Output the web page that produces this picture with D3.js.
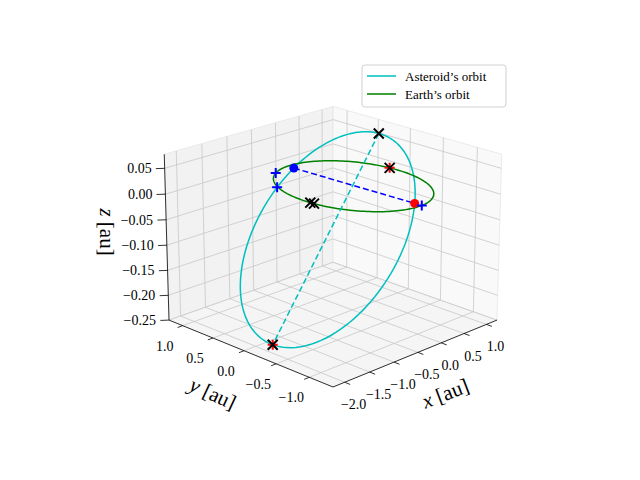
<!DOCTYPE html>
<html>
<head>
<meta charset="utf-8">
<script src="https://cdn.jsdelivr.net/npm/d3@7"></script>
<style>
  body { margin:0; background:#fff; }
  text { font-family: "Liberation Serif", "DejaVu Serif", serif; }
</style>
</head>
<body>
<svg id="chart" width="640" height="480"></svg>
<script>
// axis limits and ticks
var xLim = [-2.23, 1.24], yLim = [-1.35, 1.23], zLim = [-0.25, 0.077];
var xTicks = [-2.0, -1.5, -1.0, -0.5, 0.0, 0.5, 1.0];
var yTicks = [-1.0, -0.5, 0.0, 0.5, 1.0];
var zTicks = [-0.25, -0.20, -0.15, -0.10, -0.05, 0.00, 0.05];

// asteroid orbit elements (semi-major axis au, eccentricity, inclination deg, node rotation deg)
var orbitA = 1.2, orbitE = 0.5, orbitInc = 8, orbitRot = 3;
var earthRadius = 1.0;

// markers: asteroid by true anomaly (deg), earth by angle (deg)
var nodeBlueDot = [90], nodeRedDot = [-90];
var asteroidCross = [0, 180], asteroidRedPlus = [180], asteroidBluePlus = [104];
var earthBluePlus = [114, -87], earthRedPlus = [8], earthCross = [8, 185, 188];

var svg = d3.select("#chart");

var sx = d3.scaleLinear().domain(xLim).range([-0.5, 0.5]);
var sy = d3.scaleLinear().domain(yLim).range([-0.5, 0.5]);
var sz = d3.scaleLinear().domain(zLim).range([-0.375, 0.375]);

var elev = 20 * Math.PI / 180, azim = -135 * Math.PI / 180, dist = 9;
var R = [-Math.sin(azim), Math.cos(azim), 0];
var U = [-Math.cos(azim) * Math.sin(elev), -Math.sin(azim) * Math.sin(elev), Math.cos(elev)];
var C = [Math.cos(azim) * Math.cos(elev), Math.sin(azim) * Math.cos(elev), Math.sin(elev)];
function raw(x, y, z) {
  var P = [sx(x), sy(y), sz(z)];
  var dot = function(a) { return P[0]*a[0] + P[1]*a[1] + P[2]*a[2]; };
  var f = dist / (dist - dot(C));
  return [f * dot(R), f * dot(U)];
}
var pL = raw(xLim[0], yLim[1], zLim[0]), pR = raw(xLim[1], yLim[0], zLim[0]), pF = raw(xLim[0], yLim[0], zLim[0]);
var S = (493 - 165) / (pR[0] - pL[0]);
var cx = 333 - S * pF[0], cy = 387 + S * pF[1];
function proj(x, y, z) { var p = raw(x, y, z); return [cx + S * p[0], cy - S * p[1]]; }

var line = d3.line();
function path3(pts) { return line(pts.map(function(p) { return proj(p[0], p[1], p[2]); })); }

// panes
var x0 = xLim[0], x1 = xLim[1], y0 = yLim[0], y1 = yLim[1], z0 = zLim[0], z1 = zLim[1];
var panes = [
  { c: "#f2f2f2", p: [[x0,y1,z0],[x1,y1,z0],[x1,y1,z1],[x0,y1,z1]] },
  { c: "#f9f9f9", p: [[x1,y0,z0],[x1,y1,z0],[x1,y1,z1],[x1,y0,z1]] },
  { c: "#f5f5f5", p: [[x0,y0,z0],[x1,y0,z0],[x1,y1,z0],[x0,y1,z0]] }
];
panes.forEach(function(pn) {
  svg.append("path").attr("d", path3(pn.p) + "Z").attr("fill", pn.c).attr("stroke", "#e6e6e6").attr("stroke-width", 0.8);
});

// grid
var grid = svg.append("g").attr("stroke", "#c8c8c8").attr("stroke-width", 0.8).attr("fill", "none");
xTicks.forEach(function(t) {
  grid.append("path").attr("d", path3([[t,y0,z0],[t,y1,z0],[t,y1,z1]]));
});
yTicks.forEach(function(t) {
  grid.append("path").attr("d", path3([[x0,t,z0],[x1,t,z0],[x1,t,z1]]));
});
zTicks.forEach(function(t) {
  grid.append("path").attr("d", path3([[x0,y1,t],[x1,y1,t],[x1,y0,t]]));
});

// axis lines, ticks, labels
var ax = svg.append("g").attr("stroke", "#000").attr("stroke-width", 0.8).attr("fill", "none");
ax.append("path").attr("d", path3([[x0,y0,z0],[x1,y0,z0]]));
ax.append("path").attr("d", path3([[x0,y0,z0],[x0,y1,z0]]));
ax.append("path").attr("d", path3([[x0,y1,z0],[x0,y1,z1]]));
var fmt = function(v) { return (v < 0 ? "\u2212" : "") + Math.abs(v).toFixed(1); };
var fmt2 = function(v) { return (v < 0 ? "\u2212" : "") + Math.abs(v).toFixed(2); };
xTicks.forEach(function(t) {
  var a = proj(t, y0, z0), b = proj(t, y0 - 0.08, z0);
  ax.append("line").attr("x1", a[0]).attr("y1", a[1]).attr("x2", b[0]).attr("y2", b[1]);
  svg.append("text").attr("x", a[0] + 9).attr("y", a[1] + 27).attr("text-anchor", "middle")
    .attr("font-size", 14).text(fmt(t));
});
yTicks.forEach(function(t) {
  var a = proj(x0, t, z0), b = proj(x0 - 0.1, t, z0);
  ax.append("line").attr("x1", a[0]).attr("y1", a[1]).attr("x2", b[0]).attr("y2", b[1]);
  svg.append("text").attr("x", a[0] - 18).attr("y", a[1] + 25).attr("text-anchor", "middle")
    .attr("font-size", 14).text(fmt(t));
});
zTicks.forEach(function(t) {
  var a = proj(x0, y1, t), b = proj(x0 - 0.1, y1 + 0.06, t);
  ax.append("line").attr("x1", a[0]).attr("y1", a[1]).attr("x2", b[0]).attr("y2", b[1]);
  svg.append("text").attr("x", a[0] - 13).attr("y", a[1] + 5).attr("text-anchor", "end")
    .attr("font-size", 14).text(fmt2(t));
});
function axisLabel(x, y, rot, name) {
  var t = svg.append("text").attr("transform", "translate(" + x + "," + y + ") rotate(" + rot + ")")
    .attr("text-anchor", "middle").attr("font-size", 21);
  t.append("tspan").attr("font-style", "italic").text(name);
  t.append("tspan").text(" [au]");
}
axisLabel(448, 400, -21, "x");
axisLabel(210, 400, 25, "y");
axisLabel(100, 232, 90, "z");

// orbit geometry
var inc = orbitInc * Math.PI / 180, pSemi = orbitA * (1 - orbitE * orbitE), rot = orbitRot * Math.PI / 180;
function asteroid(nuDeg) {
  var nu = nuDeg * Math.PI / 180, r = pSemi / (1 + orbitE * Math.cos(nu));
  var px = r * Math.cos(nu) * Math.cos(inc), py = r * Math.sin(nu);
  return [px * Math.cos(rot) - py * Math.sin(rot), px * Math.sin(rot) + py * Math.cos(rot), r * Math.cos(nu) * Math.sin(inc)];
}
function earth(deg) {
  var t = deg * Math.PI / 180;
  return [earthRadius * Math.cos(t), earthRadius * Math.sin(t), 0];
}
var nus = d3.range(0, 361, 2);
svg.append("path").attr("d", path3(nus.map(asteroid))).attr("fill", "none").attr("stroke", "#00bfbf").attr("stroke-width", 1.5);
svg.append("path").attr("d", path3(nus.map(earth))).attr("fill", "none").attr("stroke", "#008000").attr("stroke-width", 1.5);
svg.append("path").attr("d", path3([asteroid(0), asteroid(180)])).attr("fill", "none")
  .attr("stroke", "#00bfbf").attr("stroke-width", 1.5).attr("stroke-dasharray", "6,3");
svg.append("path").attr("d", path3([asteroid(nodeBlueDot[0]), asteroid(nodeRedDot[0])])).attr("fill", "none")
  .attr("stroke", "#0000ff").attr("stroke-width", 1.5).attr("stroke-dasharray", "6,3");

// markers
function dot(p, color) {
  var s = proj(p[0], p[1], p[2]);
  svg.append("circle").attr("cx", s[0]).attr("cy", s[1]).attr("r", 4.5).attr("fill", color);
}
function plus(p, color) {
  var s = proj(p[0], p[1], p[2]);
  svg.append("path").attr("d", "M" + (s[0]-5) + "," + s[1] + "h10M" + s[0] + "," + (s[1]-5) + "v10")
    .attr("stroke", color).attr("stroke-width", 2);
}
function cross(p, color) {
  var s = proj(p[0], p[1], p[2]);
  svg.append("path").attr("d", "M" + (s[0]-5) + "," + (s[1]-5) + "l10,10M" + (s[0]-5) + "," + (s[1]+5) + "l10,-10")
    .attr("stroke", color).attr("stroke-width", 2);
}
nodeBlueDot.forEach(function(n) { dot(asteroid(n), "#0000ff"); });
nodeRedDot.forEach(function(n) { dot(asteroid(n), "#ff0000"); });
asteroidBluePlus.forEach(function(n) { plus(asteroid(n), "#0000ff"); });
earthBluePlus.forEach(function(n) { plus(earth(n), "#0000ff"); });
asteroidRedPlus.forEach(function(n) { plus(asteroid(n), "#ff0000"); });
earthRedPlus.forEach(function(n) { plus(earth(n), "#ff0000"); });
asteroidCross.forEach(function(n) { cross(asteroid(n), "#000"); });
earthCross.forEach(function(n) { cross(earth(n), "#000"); });

// legend
var lg = svg.append("g");
lg.append("rect").attr("x", 362).attr("y", 65).attr("width", 144).attr("height", 42).attr("rx", 3)
  .attr("fill", "#fff").attr("stroke", "#d0d0d0");
[["Asteroid\u2019s orbit", "#00bfbf"], ["Earth\u2019s orbit", "#008000"]].forEach(function(d, i) {
  var y = 76 + i * 18;
  lg.append("line").attr("x1", 367).attr("x2", 396).attr("y1", y).attr("y2", y).attr("stroke", d[1]).attr("stroke-width", 1.5);
  lg.append("text").attr("x", 405).attr("y", y + 4.5).attr("font-size", 13).text(d[0]);
});
</script>
</body>
</html>
